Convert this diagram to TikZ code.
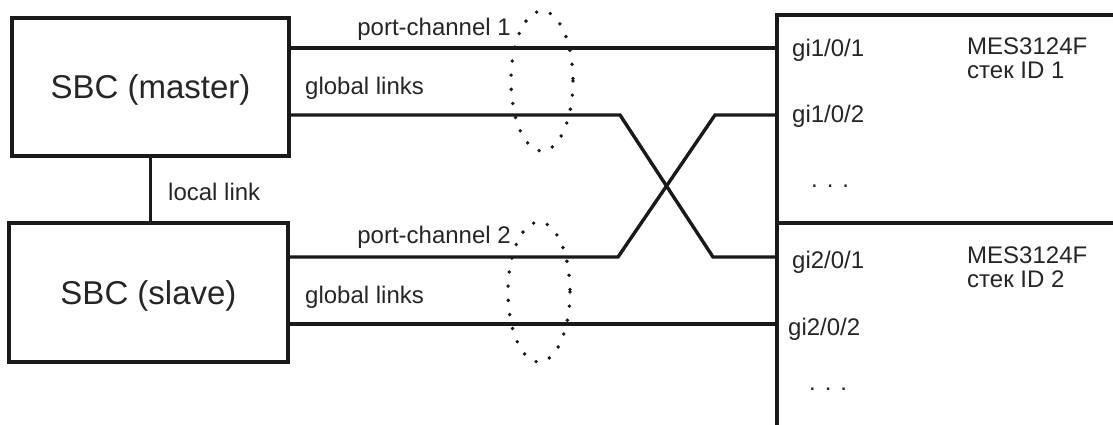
\documentclass[tikz,border=0pt]{standalone}
\usepackage{fontspec}
\setmainfont{Liberation Sans}
\definecolor{ink}{HTML}{1A1A1A}
\definecolor{txt}{HTML}{262626}
\begin{document}
\begin{tikzpicture}[x=1pt,y=-1pt,
  box/.style={draw=ink,line width=3.6pt,rectangle,inner sep=0pt,text=txt},
  wire/.style={draw=ink,line width=3.4pt},
  bundle/.style={draw=ink,line width=3.8pt,line cap=round,dash pattern=on 0pt off 14.2pt},
  lbl/.style={inner sep=0pt,text=txt,font=\fontsize{24}{24}\selectfont},
  big/.style={font=\fontsize{33}{33}\selectfont,text height=23.6pt,text depth=0pt}
]
\useasboundingbox (0,0) rectangle (1113,425);
\fill[white] (0,0) rectangle (1113,425);

% SBC boxes
\node[box,big,minimum width=277pt,minimum height=138pt] (master) at (150.5,87) {SBC (master)};
\node[box,big,minimum width=279pt,minimum height=139pt] (slave) at (148.5,292.5) {SBC (slave)};

% switch stack boxes (extend past the right and bottom edges)
\node[box,anchor=north west,minimum width=360pt,minimum height=208pt] (sw1) at (775,13) {};
\node[box,anchor=north west,minimum width=360pt,minimum height=230pt] (sw2) at (775,221) {};

% port points
\coordinate (p11) at (775,48);
\coordinate (p12) at (775,115);
\coordinate (p21) at (775,257);
\coordinate (p22) at (775,324);
\coordinate (m2) at (289,115);
\coordinate (s1) at (288,257);
\coordinate (a1) at (620,115);
\coordinate (a2) at (713,257);
\coordinate (b1) at (618,257);
\coordinate (b2) at (715,115);

% local link
\draw[wire] (master.south) -- (master.south |- slave.north);

% global links
\draw[wire] (master.east |- p11) -- (p11);
\draw[wire,line join=miter] (m2) -- (a1) -- (a2) -- (p21);
\draw[wire,line join=miter] (s1) -- (b1) -- (b2) -- (p12);
\draw[wire] (slave.east |- p22) -- (p22);

% port-channel bundles
\draw[bundle] (542,81) ellipse [x radius=31, y radius=70];
\draw[bundle] (539,292) ellipse [x radius=31, y radius=70];

% labels
\node[lbl,anchor=base east] (pc1) at (511,36) {port-channel 1};
\node[lbl,anchor=base west] (gl1) at (305,95) {global links};
\node[lbl,anchor=base west] (ll) at (168,200) {local link};
\node[lbl,anchor=base east] (pc2) at (511,243.5) {port-channel 2};
\node[lbl,anchor=base west] (gl2) at (305,303.5) {global links};

\node[lbl,anchor=base west] (g11) at (792,57) {gi1/0/1};
\node[lbl,anchor=base west] (g12) at (792,123) {gi1/0/2};
\node[lbl,anchor=base west] (d1) at (811,187) {. . .};
\node[lbl,anchor=north west,align=left,font=\fontsize{24}{23.8}\selectfont] (n1) at (967,37.8) {MES3124F\\стек ID 1};

\node[lbl,anchor=base west] (g21) at (792,268) {gi2/0/1};
\node[lbl,anchor=base west] (g22) at (788,335) {gi2/0/2};
\node[lbl,anchor=base west] (d2) at (809,390) {. . .};
\node[lbl,anchor=north west,align=left,font=\fontsize{24}{23.5}\selectfont] (n2) at (967,246.8) {MES3124F\\стек ID 2};
\end{tikzpicture}
\end{document}
